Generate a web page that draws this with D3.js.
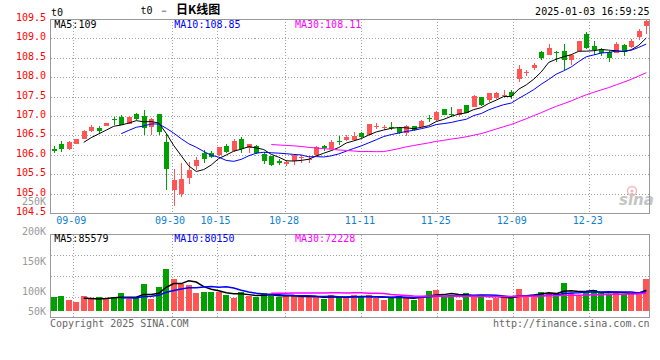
<!DOCTYPE html>
<html><head><meta charset="utf-8">
<script src="https://cdn.jsdelivr.net/npm/d3@7"></script>
<style>
html,body{margin:0;padding:0;background:#fff;}
svg{display:block;}
text{font-family:"DejaVu Sans Mono",monospace;font-size:10px;}
</style></head><body>
<svg id="c" width="660" height="360"></svg>
<script>
const dates = ["09-04","09-05","09-06","09-09","09-10","09-11","09-12","09-13","09-18","09-19","09-20","09-23","09-24","09-25","09-26","09-27","09-30",
"10-08","10-09","10-10","10-11","10-14","10-15","10-16","10-17","10-18","10-21","10-22","10-23","10-24","10-25","10-28","10-29","10-30","10-31",
"11-01","11-04","11-05","11-06","11-07","11-08","11-11","11-12","11-13","11-14","11-15","11-18","11-19","11-20","11-21","11-22","11-25","11-26","11-27","11-28","11-29",
"12-02","12-03","12-04","12-05","12-06","12-09","12-10","12-11","12-12","12-13","12-16","12-17","12-18","12-19","12-20","12-23","12-24","12-25","12-26","12-27","12-30","12-31",
"01-02","01-03"];
const openP = [106.14,106.27,106.14,106.29,106.42,106.62,106.70,106.75,106.92,106.97,106.80,107.05,107.00,106.71,107.04,106.32,105.11,104.99,105.40,105.71,
106.06,106.05,105.99,106.23,106.09,106.40,106.19,106.23,106.03,105.96,105.85,105.80,105.84,105.92,105.87,105.99,106.22,106.16,106.35,106.39,
106.39,106.57,106.51,106.72,106.70,106.72,106.69,106.57,106.74,106.73,106.95,106.90,107.17,107.05,107.02,107.27,107.24,107.48,107.41,107.45,
107.53,107.62,107.96,108.11,108.23,108.64,108.58,108.65,108.66,108.45,108.67,109.11,108.79,108.73,108.64,108.63,108.82,108.77,109.02,109.30];
const highP = [106.24,106.35,106.36,106.42,106.63,106.77,106.75,106.83,106.97,107.02,106.99,107.07,107.15,106.94,107.05,106.55,105.63,105.79,105.83,105.95,
106.13,106.11,106.21,106.28,106.40,106.47,106.28,106.25,106.07,105.97,105.90,105.88,106.02,106.00,105.96,106.22,106.26,106.38,106.49,106.50,
106.59,106.60,106.80,106.81,106.77,106.84,106.70,106.77,106.75,106.91,107.03,107.14,107.18,107.22,107.19,107.29,107.55,107.50,107.60,107.62,
107.66,107.66,108.31,108.19,108.36,108.68,108.86,108.67,108.84,108.60,108.93,109.17,108.92,108.75,108.68,108.90,108.86,108.97,109.24,109.49];
const lowP = [106.05,106.08,106.12,106.28,106.41,106.58,106.57,106.74,106.77,106.77,106.79,106.90,106.51,106.51,106.52,105.11,104.68,104.92,105.24,105.61,
105.80,105.92,105.98,106.05,106.08,106.06,106.06,106.03,105.76,105.72,105.73,105.72,105.75,105.80,105.78,105.98,106.10,106.15,106.25,106.37,
106.38,106.43,106.50,106.66,106.63,106.64,106.55,106.49,106.62,106.72,106.84,106.86,107.02,106.98,106.99,107.07,107.22,107.26,107.37,107.44,
107.45,107.43,107.87,108.02,108.18,108.45,108.56,108.39,108.19,108.30,108.66,108.72,108.56,108.53,108.39,108.61,108.54,108.75,108.94,109.11];
const closeP = [106.12,106.14,106.33,106.41,106.62,106.72,106.62,106.82,106.90,106.78,106.97,106.93,106.68,106.92,106.60,105.64,105.36,105.37,105.62,105.88,
105.89,105.95,106.20,106.07,106.37,106.15,106.27,106.05,105.85,105.75,105.79,105.81,106.01,105.94,105.89,106.21,106.17,106.34,106.34,106.47,
106.49,106.46,106.79,106.74,106.72,106.71,106.56,106.75,106.64,106.88,106.93,107.09,107.03,107.03,107.17,107.08,107.51,107.28,107.58,107.59,
107.55,107.51,108.22,108.13,108.32,108.48,108.74,108.63,108.45,108.58,108.92,108.75,108.69,108.61,108.49,108.84,108.64,108.93,109.18,109.43];
const volume = [55600,61160,44480,36140,61160,48650,55600,51430,51430,73670,47260,55600,111200,48650,98690,173750,132050,111200,107030,73670,
77840,77840,77840,65330,52820,77840,61160,56990,73670,61160,56990,61160,61160,56990,56990,56990,48650,66720,55600,51430,
66720,55600,66720,51430,44480,55600,61160,55600,44480,61160,82010,86180,61160,65330,44480,73670,65330,65330,44480,51430,
55600,51430,90350,65330,65330,77840,73670,73670,115370,73670,61160,82010,86180,73670,69500,73670,69500,73670,77840,132050];
const priceTicks = [109.5,109.0,108.5,108.0,107.5,107.0,106.5,106.0,105.5,105.0,104.5];
const dateTicks = ["09-09","09-30","10-15","10-28","11-11","11-25","12-09","12-23"];
const volTicks = [250000,200000,150000,100000,50000];
const volTickLabels = ["250K","200K","150K","100K","50K"];
const maPeriods = [5,10,30];
const maColors = ["#000000","#0000ff","#ff00ff"];
const priceMaLabels = ["MA5:109","MA10:108.85","MA30:108.11"];
const volMaLabels = ["MA5:85579","MA10:80150","MA30:72228"];

const RED="#ff5555", GREEN="#00a000", GRID="#a0a0a0", BORDER="#999999";
const svg = d3.select("#c");
const xb = d3.scaleBand().domain(dates).range([50,650]).paddingInner(0.2).paddingOuter(0.1);
const xp = d3.scalePoint().domain(dates).range([50,650]);
const y = d3.scaleLinear().domain([104.5,109.5]).range([213.3,18.7]);
const yv = d3.scaleLinear().domain([0,200000]).range([310.7,262.7]);
const yvLab = d3.scaleLinear().domain([100000,250000]).range([291,201.5]);
const cx = i => xb(dates[i]) + xb.bandwidth()/2;
const mainTop = y(109.5), mainBot = y(104.5);
const volTop = 234.5, volBot = 317.5;
const L = 50.5, R = 649.5;

// grids main
const g = svg.append("g").attr("shape-rendering","crispEdges");
g.selectAll(".hg").data(priceTicks.slice(1,-1)).enter().append("line")
  .attr("x1",L).attr("x2",R).attr("y1",d=>Math.round(y(d))+0.5).attr("y2",d=>Math.round(y(d))+0.5)
  .attr("stroke",GRID).attr("stroke-dasharray","1,2");
g.selectAll(".vg").data(dateTicks).enter().append("line")
  .attr("x1",d=>Math.round(xp(d))+0.5).attr("x2",d=>Math.round(xp(d))+0.5)
  .attr("y1",mainTop).attr("y2",mainBot).attr("stroke",GRID).attr("stroke-dasharray","1,2");
// grids volume
const vgl = d3.range(1,4).map(k=>volTop+k*(volBot-volTop)/4);
g.selectAll(".vhg").data(vgl).enter().append("line")
  .attr("x1",L).attr("x2",R).attr("y1",d=>Math.round(d)+0.5).attr("y2",d=>Math.round(d)+0.5)
  .attr("stroke",GRID).attr("stroke-dasharray","1,2");
g.selectAll(".vvg").data(dateTicks).enter().append("line")
  .attr("x1",d=>Math.round(xp(d))+0.5).attr("x2",d=>Math.round(xp(d))+0.5)
  .attr("y1",volTop).attr("y2",volBot).attr("stroke",GRID).attr("stroke-dasharray","1,2");

// watermark
const wm = svg.append("g");
wm.append("circle").attr("cx",632).attr("cy",191).attr("r",4.5).attr("fill","none").attr("stroke","#f2b8b8").attr("stroke-width",1.5);
wm.append("circle").attr("cx",632).attr("cy",191).attr("r",1.5).attr("fill","#f2b8b8");
wm.append("text").attr("x",619).attr("y",205).attr("fill","#c4c4c4")
  .style("font-family","'DejaVu Sans',sans-serif").style("font-size","15px").style("font-weight","bold").style("font-style","italic").text("sina");

// candles
const idx = d3.range(dates.length);
const cg = svg.append("g").attr("shape-rendering","crispEdges");
cg.selectAll(".wick").data(idx).enter().append("line")
  .attr("x1",i=>Math.round(cx(i))+0.5).attr("x2",i=>Math.round(cx(i))+0.5)
  .attr("y1",i=>y(highP[i])).attr("y2",i=>y(lowP[i]))
  .attr("stroke",i=>closeP[i]>=openP[i]?RED:GREEN);
cg.selectAll(".body").data(idx).enter().append("rect")
  .attr("x",i=>Math.round(cx(i))-2).attr("width",5)
  .attr("y",i=>y(Math.max(openP[i],closeP[i])))
  .attr("height",i=>Math.max(1.2,Math.abs(y(openP[i])-y(closeP[i]))))
  .attr("fill",i=>closeP[i]>=openP[i]?RED:GREEN);

// volume bars
cg.selectAll(".vb").data(idx).enter().append("rect")
  .attr("x",i=>Math.round(xb(dates[i]))).attr("width",6)
  .attr("y",i=>yv(volume[i])).attr("height",i=>yv(0)-yv(volume[i]))
  .attr("fill",i=>closeP[i]>=openP[i]?RED:GREEN);

function ma(arr,n){return arr.map((v,i)=> i<n-1?null:d3.mean(arr.slice(i-n+1,i+1)));}
maPeriods.forEach((n,k)=>{
  const m = ma(closeP,n);
  svg.append("path").datum(m).attr("fill","none").attr("stroke",maColors[k]).attr("stroke-width",1)
    .attr("d",d3.line().defined(v=>v!=null).x((v,i)=>cx(i)).y(v=>y(v)));
  const mv = ma(volume,n);
  svg.append("path").datum(mv).attr("fill","none").attr("stroke",maColors[k]).attr("stroke-width",1.5)
    .attr("d",d3.line().defined(v=>v!=null).x((v,i)=>cx(i)).y(v=>yv(v)));
});

// borders
const bg = svg.append("g").attr("shape-rendering","crispEdges").attr("fill","none").attr("stroke",BORDER);
bg.append("rect").attr("x",L).attr("y",Math.round(mainTop)+0.5).attr("width",R-L).attr("height",Math.round(mainBot)-Math.round(mainTop));
bg.append("rect").attr("x",L).attr("y",volTop).attr("width",R-L).attr("height",volBot-volTop);

// price labels
svg.selectAll(".pl").data(priceTicks).enter().append("text")
  .attr("x",46).attr("y",d=>y(d)+2).attr("text-anchor","end").attr("fill","#ff0000")
  .text(d=>d.toFixed(1));
// date labels
svg.selectAll(".dl").data(dateTicks).enter().append("text")
  .attr("x",d=>xp(d)-1.5).attr("y",224).attr("text-anchor","middle").attr("fill","#1080d0").text(d=>d);
// vol labels
svg.selectAll(".vl").data(volTicks).enter().append("text")
  .attr("x",46).attr("y",(d,i)=>Math.min(yvLab(d),311)+3.5).attr("text-anchor","end").attr("fill","#999999")
  .text((d,i)=>volTickLabels[i]);

// MA labels
const maX = [54.3,174.3,295];
priceMaLabels.forEach((t,k)=>svg.append("text").attr("x",maX[k]).attr("y",27.5).attr("fill",maColors[k]).text(t));
volMaLabels.forEach((t,k)=>svg.append("text").attr("x",maX[k]).attr("y",241.5).attr("fill",maColors[k]).text(t));

// header
svg.append("text").attr("x",51).attr("y",16).attr("fill","#000").text("t0");
const title = svg.append("text").attr("y",14).attr("fill","#000");
title.append("tspan").attr("x",140.5).text("t0");
title.append("tspan").attr("x",158.5).text("－");
title.append("tspan").attr("x",176).style("font-family","'Noto Sans CJK SC',sans-serif").style("font-size","12px").style("font-weight","bold").text("日K线图");
svg.append("text").attr("x",649.5).attr("y",15).attr("text-anchor","end").attr("fill","#000").text("2025-01-03 16:59:25");

// footer
svg.append("text").attr("x",50).attr("y",326.5).attr("fill","#666").text("Copyright 2025 SINA.COM");
svg.append("text").attr("x",649.5).attr("y",326.5).attr("text-anchor","end").attr("fill","#666").text("http://finance.sina.com.cn");
</script>
</body></html>
